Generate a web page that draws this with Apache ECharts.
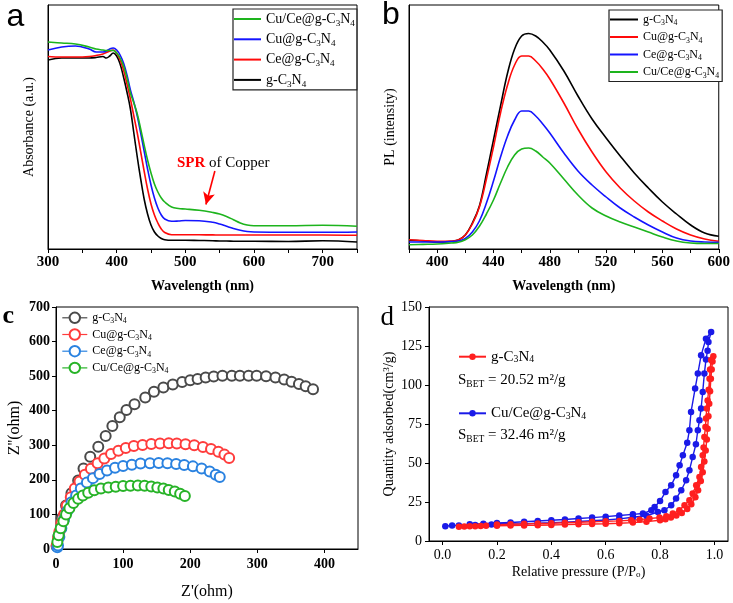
<!DOCTYPE html>
<html><head><meta charset="utf-8">
<script src="https://cdn.jsdelivr.net/npm/echarts@6/dist/echarts.min.js"></script>
<style>html,body{margin:0;padding:0;background:#fff}#c{width:733px;height:603px}</style>
</head><body><div id="c"></div>
<script>
// ---------- Panel a: UV-vis absorbance ----------
const aWl = [300,320,340,360,370,380,385,390,395,400,405,410,415,420,425,430,435,440,445,450,455,460,465,470,480,490,500,520,540,550,560,570,580,590,600,650,700,750];
const aCuCe = [207,206,205,202,200,199,198.5,198.5,198.5,196,191,183,171,156,146,135,120,104,89,76,65,57,51,47,42,40.5,40,38.7,36.5,35,32.5,29.3,26,24,23.3,23.3,23.7,22.7];
const aCu   = [199,202,203,200,197,197,198,200,201,199,194,186,174,159,147,133,116,98,80,64,51,41,34,30,27.7,28,28.5,28.3,26.7,25,22.7,20.5,18.7,17.5,17,16.7,16.7,17];
const aCe   = [192.5,192,192,192.5,193.5,195,196.5,198,199,196,189,179,165,150,133,116,97,78,60,45,34,26,20,16.5,14.3,14.3,14.3,14.2,14.1,14,14,14,14,14,14,14,14,13.7];
const aG    = [189,191,191,191,191.5,192.5,191,193,196,193,185,172,157,140,116,92,70,50,35,24,17,13,10.5,9.3,8.7,8.7,8.7,8.5,8.3,8,8,7.8,7.7,7.7,7.7,7.5,8.3,7];
const aTickLabels = [300,400,500,600,700];
const aTicks = [300,350,400,450,500,550,600,650,700,750];

// ---------- Panel b: PL spectra ----------
const bWl = [380,390,400,410,415,420,425,430,435,440,445,450,455,460,465,470,475,480,490,500,510,520,530,540,550,560,570,580,590,600];
const bG    = [8.7,8,7,7.5,9,14,26,43,75,109,143,176,200,213,215.5,213,207,199,178,153,130,111,93,76,61,47,35,24,16,12.7];
const bCu   = [9.3,8.5,7.7,8,9,14,25,42,70,102,136,164,184,193,193,188,180,170,146,120,97,77,61,48,37,28,20,14,10,7.7];
const bCe   = [7,7,7,7.5,8,10.5,17,28,46,68,92,113,129,138,138,133,125,116,96,78,64,52,41,32,24,17,11,8,7,6.7];
const bCuCe = [4.3,4.6,5,6,6.7,9.3,14,22.7,35,49,66,82,94,100,101,98,92,86,70,54,41,33,27,22,17,12,8,6,5.5,5.5];
const bTickLabels = [400,440,480,520,560,600];
const bTicks = [380,400,420,440,460,480,500,520,540,560,580,600];

// ---------- Panel c: Nyquist plots ----------
const cGRe = [1,3.5,8.4,15,23,33,41,51,63,74,84,95,105,117,133,146,160,174,188,200,211,223,235,248,262,274,287,299,313,327,340,351,362,372,383];
const cGIm = [8,36,89,126,161,198,233,267,296,327,356,381,402,419,438,455,467,476,483,488,492,496,499,501,501,501,501,501,500,496,490,484,477,471,462];
const cCuRe = [1,3,5,8,12,16,22,28,35,43,52,62,72,82,93,104,116,129,142,155,168,180,193,206,219,231,242,251,258];
const cCuIm = [10,30,50,75,100,125,150,175,195,215,232,248,262,275,284,292,298,301,304,305,306,305,303,300,295,289,281,273,263];
const cCeRe = [2,3,5,8,12,17,23,30,37,46,55,65,76,88,100,113,126,140,153,166,179,191,204,217,229,238,244];
const cCeIm = [5,10,35,60,85,110,135,155,175,192,205,217,227,235,240,244,247,248,249,248,246,243,239,233,224,215,208];
const cCuCeRe = [2,4,7,11,15,20,26,33,40,48,57,67,78,89,100,111,122,132,142,151,160,168,177,185,192];
const cCuCeIm = [20,40,60,80,100,118,133,145,155,163,170,175,178,180,182,183,184,183,181,178,175,171,166,160,153];
const cTickLabels = [0,100,200,300,400];

// ---------- Panel d: N2 isotherms (adsorption branch, then desorption branch) ----------
const dGP = [0.06,0.08,0.1,0.12,0.14,0.16,0.2,0.25,0.3,0.35,0.4,0.45,0.5,0.55,0.6,0.65,0.7,0.75,0.8,0.82,0.84,0.86,0.88,0.9,0.915,0.93,0.94,0.95,0.957,0.963,0.968,0.972,0.975,0.978,0.981,0.984,0.987,0.99,0.993,0.996,
             0.988,0.984,0.982,0.979,0.975,0.972,0.969,0.967,0.963,0.96,0.957,0.951,0.945,0.933,0.92,0.908,0.89,0.871,0.847,0.823,0.798,0.761,0.725,0.694,0.65,0.6,0.55,0.5,0.45,0.4,0.35,0.3,0.25,0.2];
const dGQ = [9.2,9.3,9.4,9.5,9.6,9.7,9.8,9.9,10,10.1,10.3,10.5,10.7,10.9,11.1,11.4,11.8,12.4,13.3,14,15,16.3,18,20.5,23.5,28,32.5,38.5,44,51,58,65,72,80,88,96,104,110,115,118.4,
             116,110,104,97,90,85,78.5,73,66.7,60,55,47.4,41,35.7,30.4,26.1,22.9,19.7,17.6,15.8,15,14.4,13.7,13.3,12.9,12.6,12.3,12,11.7,11.4,11.2,11,10.8,10.5];
const dCuCeP = [0.01,0.035,0.06,0.1,0.12,0.15,0.18,0.2,0.25,0.3,0.35,0.4,0.45,0.5,0.55,0.6,0.65,0.7,0.75,0.792,0.816,0.841,0.859,0.878,0.896,0.908,0.92,0.932,0.939,0.945,0.951,0.957,0.963,0.969,0.975,0.978,0.988,
                0.969,0.951,0.939,0.929,0.914,0.908,0.9,0.884,0.872,0.859,0.841,0.82,0.8,0.78,0.768,0.737,0.7,0.65,0.6,0.55,0.5,0.45,0.4,0.35,0.3,0.25,0.2,0.15,0.1];
const dCuCeQ = [9.5,10,10,10.1,10.2,10.4,10.6,10.7,10.9,11,11.4,11.7,12.1,12.5,13,13.5,14.2,15.2,16.2,18.6,19.7,22.9,27.2,32.5,38.9,45.3,53.8,62,71,77.4,84.9,95.5,107.3,116.3,122,127.6,134,
                129.7,119,107.3,97.7,82.7,71,63,55,48.5,42.1,35.7,31.4,25.6,21.8,19.7,17.6,17.1,16.3,15.6,15,14.4,13.8,13.3,12.8,12.3,11.9,11.5,11.1,10.7];
const dTickLabels = [0,0.2,0.4,0.6,0.8,1];
const dSbet = ['20.52', '32.46'];

// ---------- helpers ----------
const SERIF = "'Liberation Serif','Times New Roman',serif";
const SANS = "'Liberation Sans',Arial,sans-serif";
const zip = (xs, ys) => xs.map((x, i) => [x, ys[i]]);
const fmt = t => t.replace('C3N4', 'C{s|3}N{s|4}');
const subRich = (fs) => ({ s: { fontSize: fs, fontFamily: SERIF, color: '#000', verticalAlign: 'bottom', lineHeight: Math.round(fs) } });
const axisLine = { show: true, onZero: false, lineStyle: { color: '#000', width: 1 } };
const gridBox = { show: true, borderColor: '#000', borderWidth: 1, backgroundColor: 'transparent', containLabel: false };

function lineSeries(name, xi, xs, ys, color) {
  return { type: 'line', name: name, xAxisIndex: xi, yAxisIndex: xi, data: zip(xs, ys), smooth: 0.4,
    symbol: 'none', lineStyle: { color: color, width: 1.6 }, itemStyle: { color: color }, z: 3 };
}
function circSeries(name, xs, ys, color) {
  return { type: 'line', name: name, xAxisIndex: 2, yAxisIndex: 2, data: zip(xs, ys),
    symbol: 'emptyCircle', symbolSize: 10, showSymbol: true, showAllSymbol: true,
    lineStyle: { color: color, width: 1.2, opacity: 0 }, itemStyle: { color: color, borderColor: color, borderWidth: 1.3 } };
}
function dotSeries(name, xs, ys, color) {
  return { type: 'line', name: name, xAxisIndex: 3, yAxisIndex: 3, data: zip(xs, ys),
    symbol: 'circle', symbolSize: 6.5, showSymbol: true, showAllSymbol: true,
    lineStyle: { color: color, width: 1.4 }, itemStyle: { color: color } };
}

const C = {
  aGreen: '#1db41d', aBlue: '#1414ff', aRed: '#ff0a0a', aBlack: '#000000',
  cGray: '#4a4a4a', cRed: '#ff3c3c', cBlue: '#2a82e0', cGreen: '#27b327',
  dRed: '#ff1f1f', dBlue: '#1a1ae8'
};

const series = [
  lineSeries('a:g-C3N4', 0, aWl, aG, C.aBlack),
  lineSeries('a:Ce@g-C3N4', 0, aWl, aCe, C.aRed),
  lineSeries('a:Cu@g-C3N4', 0, aWl, aCu, C.aBlue),
  Object.assign(lineSeries('a:Cu/Ce@g-C3N4', 0, aWl, aCuCe, C.aGreen), {
    markLine: { silent: true, symbol: ['none', 'arrow'], symbolSize: 12, z: 10,
      lineStyle: { color: '#ff0000', width: 1.6, type: 'solid' }, itemStyle: { color: '#ff0000' }, label: { show: false },
      data: [[{ coord: [543, 78], symbol: 'none' }, { coord: [530, 44.5], symbol: 'arrow', symbolSize: [9, 12] }]] }
  }),
  lineSeries('b:g-C3N4', 1, bWl, bG, C.aBlack),
  lineSeries('b:Cu@g-C3N4', 1, bWl, bCu, C.aRed),
  lineSeries('b:Ce@g-C3N4', 1, bWl, bCe, C.aBlue),
  lineSeries('b:Cu/Ce@g-C3N4', 1, bWl, bCuCe, C.aGreen),
  circSeries('c:g-C3N4', cGRe, cGIm, C.cGray),
  circSeries('c:Cu@g-C3N4', cCuRe, cCuIm, C.cRed),
  circSeries('c:Ce@g-C3N4', cCeRe, cCeIm, C.cBlue),
  circSeries('c:Cu/Ce@g-C3N4', cCuCeRe, cCuCeIm, C.cGreen),
  dotSeries('d:Cu/Ce@g-C3N4', dCuCeP, dCuCeQ, C.dBlue),
  dotSeries('d:g-C3N4', dGP, dGQ, C.dRed)
];

const legendFmt = n => fmt(n.split(':')[1]);
function legendText(fs, lh) {
  return { fontFamily: SERIF, fontSize: fs, color: '#000', lineHeight: lh, rich: subRich(fs * 0.65) };
}

const tickLbl = (fs, bold, margin) => ({ fontFamily: SERIF, fontSize: fs, fontWeight: bold ? 'bold' : 'normal', color: '#000', margin: margin });
const nameStyle = (fs, bold) => ({ fontFamily: SERIF, fontSize: fs, fontWeight: bold ? 'bold' : 'normal', color: '#000',
  rich: { s: { fontFamily: SERIF, fontSize: fs * 0.65, fontWeight: bold ? 'bold' : 'normal', verticalAlign: 'bottom', lineHeight: fs * 0.65 },
          u: { fontFamily: SERIF, fontSize: fs * 0.65, fontWeight: bold ? 'bold' : 'normal', verticalAlign: 'top', lineHeight: fs * 0.65 } } });

const option = {
  animation: false,
  backgroundColor: '#fff',
  grid: [
    Object.assign({ left: 48, top: 5, width: 309, height: 244 }, gridBox),
    Object.assign({ left: 409, top: 5, width: 311, height: 244 }, gridBox),
    Object.assign({ left: 56, top: 307, width: 302, height: 242 }, gridBox),
    Object.assign({ left: 429, top: 307, width: 299, height: 234 }, gridBox)
  ],
  xAxis: [
    { gridIndex: 0, type: 'value', min: 300, max: 750, axisLine: axisLine, splitLine: { show: false },
      axisTick: { show: true, length: 4, customValues: aTicks, lineStyle: { color: '#000' } },
      axisLabel: Object.assign({ customValues: aTickLabels }, tickLbl(15, true, 6)),
      name: 'Wavelength (nm)', nameLocation: 'middle', nameGap: 30, nameTextStyle: nameStyle(14, true) },
    { gridIndex: 1, type: 'value', min: 380, max: 600, axisLine: axisLine, splitLine: { show: false },
      axisTick: { show: true, length: 4, customValues: bTicks, lineStyle: { color: '#000' } },
      axisLabel: Object.assign({ customValues: bTickLabels }, tickLbl(15, true, 6)),
      name: 'Wavelength (nm)', nameLocation: 'middle', nameGap: 30, nameTextStyle: nameStyle(14, true) },
    { gridIndex: 2, type: 'value', min: 0, max: 450, axisLine: axisLine, splitLine: { show: false },
      axisTick: { show: true, length: 4, customValues: cTickLabels, lineStyle: { color: '#000' } },
      axisLabel: Object.assign({ customValues: cTickLabels }, tickLbl(14, true, 8)),
      name: "Z'(ohm)", nameLocation: 'middle', nameGap: 35, nameTextStyle: nameStyle(16, false) },
    { gridIndex: 3, type: 'value', min: -0.05, max: 1.05, axisLine: axisLine, splitLine: { show: false },
      axisTick: { show: true, length: 4, customValues: dTickLabels, lineStyle: { color: '#000' } },
      axisLabel: Object.assign({ customValues: dTickLabels, formatter: v => v.toFixed(1) }, tickLbl(14, false, 7)),
      name: 'Relative pressure (P/P{s|o})', nameLocation: 'middle', nameGap: 24, nameTextStyle: nameStyle(14, false) }
  ],
  yAxis: [
    { gridIndex: 0, type: 'value', min: 0, max: 244, axisLine: axisLine, splitLine: { show: false },
      axisTick: { show: false }, axisLabel: { show: false },
      name: 'Absorbance (a.u.)', nameLocation: 'middle', nameGap: 12, nameTextStyle: nameStyle(14, false) },
    { gridIndex: 1, type: 'value', min: 0, max: 244, axisLine: axisLine, splitLine: { show: false },
      axisTick: { show: false }, axisLabel: { show: false },
      name: 'PL (intensity)', nameLocation: 'middle', nameGap: 12, nameTextStyle: nameStyle(14, false) },
    { gridIndex: 2, type: 'value', min: 0, max: 700, interval: 100, axisLine: axisLine, splitLine: { show: false },
      axisTick: { show: true, length: 4, lineStyle: { color: '#000' } }, axisLabel: tickLbl(14, true, 6),
      name: "Z''(ohm)", nameLocation: 'middle', nameGap: 33, nameTextStyle: nameStyle(16, false) },
    { gridIndex: 3, type: 'value', min: 0, max: 150, interval: 25, axisLine: axisLine, splitLine: { show: false },
      axisTick: { show: true, length: 4, lineStyle: { color: '#000' } }, axisLabel: tickLbl(14, false, 7),
      name: 'Quantity adsorbed(cm{u|3}/g)', nameLocation: 'middle', nameGap: 33, nameTextStyle: nameStyle(14, false) }
  ],
  legend: [
    { data: ['a:Cu/Ce@g-C3N4', 'a:Cu@g-C3N4', 'a:Ce@g-C3N4', 'a:g-C3N4'], orient: 'vertical', left: 233, top: 9,
      padding: [1, 2, 1, 1], itemGap: 2.3, itemWidth: 27, itemHeight: 2, icon: 'rect', borderColor: '#222', borderWidth: 1.2,
      selectedMode: false, formatter: legendFmt, textStyle: legendText(14, 18), backgroundColor: '#fff' },
    { data: ['b:g-C3N4', 'b:Cu@g-C3N4', 'b:Ce@g-C3N4', 'b:Cu/Ce@g-C3N4'], orient: 'vertical', left: 609, top: 10,
      padding: [2, 3, 2, 1], itemGap: 2.5, itemWidth: 28, itemHeight: 2, icon: 'rect', borderColor: '#222', borderWidth: 1.2,
      selectedMode: false, formatter: legendFmt, textStyle: legendText(12, 15), backgroundColor: '#fff' },
    { data: ['c:g-C3N4', 'c:Cu@g-C3N4', 'c:Ce@g-C3N4', 'c:Cu/Ce@g-C3N4'], orient: 'vertical', left: 61.7, top: 310.3,
      padding: 0, itemGap: 1.7, itemWidth: 25, itemHeight: 13, selectedMode: false, formatter: legendFmt,
      textStyle: legendText(12, 15), lineStyle: { opacity: 1, width: 1.2 } },
    { data: ['d:g-C3N4'], left: 458, top: 348.7, padding: 0, itemWidth: 27, itemHeight: 8,
      selectedMode: false, formatter: legendFmt, textStyle: legendText(15, 16) },
    { data: ['d:Cu/Ce@g-C3N4'], left: 458, top: 405.3, padding: 0, itemWidth: 27, itemHeight: 8,
      selectedMode: false, formatter: legendFmt, textStyle: legendText(15, 16) }
  ],
  graphic: [
    { type: 'text', left: 6.5, top: 1, style: { text: 'a', font: '32px ' + SANS, fill: '#000' } },
    { type: 'text', left: 382, top: -1, style: { text: 'b', font: '32px ' + SANS, fill: '#000' } },
    { type: 'text', left: 2.5, top: 303, style: { text: 'c', font: 'bold 26px ' + SERIF, fill: '#000' } },
    { type: 'text', left: 380.5, top: 304, style: { text: 'd', font: '27px ' + SERIF, fill: '#000' } },
    { type: 'text', left: 177, top: 156, style: { text: '{r|SPR} of Copper', font: '15px ' + SERIF, fill: '#000',
      rich: { r: { fontFamily: SERIF, fontSize: 15, fontWeight: 'bold', fill: '#ff0000', color: '#ff0000' } } } },
    { type: 'text', left: 458, top: 371, style: { text: 'S{s|BET} = ' + dSbet[0] + ' m²/g', font: '15px ' + SERIF, fill: '#000', lineHeight: 18,
      rich: { s: { fontFamily: SERIF, fontSize: 9.5, verticalAlign: 'bottom', lineHeight: 10 } } } },
    { type: 'text', left: 458, top: 426, style: { text: 'S{s|BET} = ' + dSbet[1] + ' m²/g', font: '15px ' + SERIF, fill: '#000', lineHeight: 18,
      rich: { s: { fontFamily: SERIF, fontSize: 9.5, verticalAlign: 'bottom', lineHeight: 10 } } } }
  ],
  series: series
};

const chart = echarts.init(document.getElementById('c'), null, { renderer: 'canvas' });
chart.setOption(option);
</script></body></html>
